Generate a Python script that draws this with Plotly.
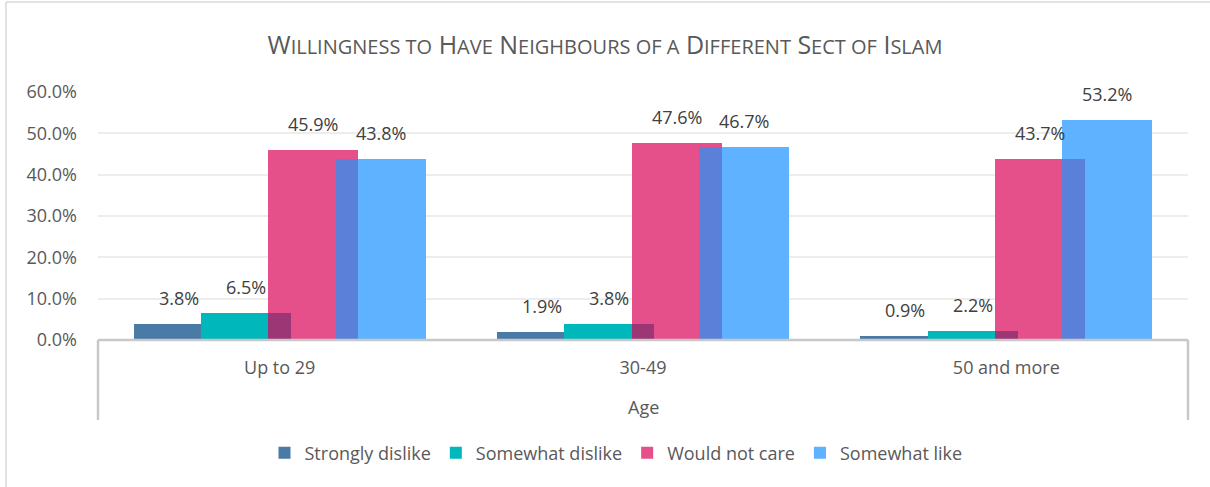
import plotly.graph_objects as go

categories = ["Up to 29", "30-49", "50 and more"]
series_names = ["Strongly dislike", "Somewhat dislike", "Would not care", "Somewhat like"]
strongly_dislike = [3.8, 1.9, 0.9]
somewhat_dislike = [6.5, 3.8, 2.2]
would_not_care = [45.9, 47.6, 43.7]
somewhat_like = [43.8, 46.7, 53.2]
y_ticks = [0, 10, 20, 30, 40, 50, 60]
y_tick_labels = [f"{v:.1f}%" for v in y_ticks]

series_values = [strongly_dislike, somewhat_dislike, would_not_care, somewhat_like]
colors = ["#4A7BA6", "#00B7BC", "#E6508A", "#5EB2FF"]
overlap_colors = {1: "#9C3675", 2: "#5A80DA"}  # overlap of series k with k+1

FONT = "Open Sans"
TXT = "#595959"
FS = 18

pitch = 0.1853
width = 0.2477
centers = [(k - 1.5) * pitch for k in range(4)]
group_x = list(range(len(categories)))

fig = go.Figure()
for k, (name, vals) in enumerate(zip(series_names, series_values)):
    fig.add_trace(go.Bar(
        x=[g + centers[k] for g in group_x], y=vals, width=width,
        name=name, marker=dict(color=colors[k], line=dict(width=0)),
        hoverinfo="skip",
    ))
    if k - 1 in overlap_colors:
        j = k - 1
        ov_w = width - pitch
        ov_x = [g + (centers[j] + centers[k]) / 2 for g in group_x]
        ov_y = [min(a, b) for a, b in zip(series_values[j], vals)]
        fig.add_trace(go.Bar(
            x=ov_x, y=ov_y, width=ov_w, showlegend=False,
            marker=dict(color=overlap_colors[j], line=dict(width=0)),
            hoverinfo="skip",
        ))

annotations = []
for k, vals in enumerate(series_values):
    for g, v in zip(group_x, vals):
        annotations.append(dict(
            x=g + centers[k], y=v, xref="x", yref="y", text=f"{v:.1f}%",
            showarrow=False, yanchor="bottom", yshift=12,
            font=dict(family=FONT, size=FS, color="#404040"),
        ))

annotations.append(dict(
    x=0.5, y=-67 / 248, xref="paper", yref="paper", text="Age",
    showarrow=False, yanchor="middle", font=dict(family=FONT, size=FS, color=TXT),
))

SC = "font-size:20px"
title_text = (f"W<span style='{SC}'>ILLINGNESS TO</span> "
              f"H<span style='{SC}'>AVE</span> "
              f"N<span style='{SC}'>EIGHBOURS OF A</span> "
              f"D<span style='{SC}'>IFFERENT</span> "
              f"S<span style='{SC}'>ECT OF</span> "
              f"I<span style='{SC}'>SLAM</span>")

line_col = "#C8C8C8"
border_col = "#D9D9D9"
shapes = [
    dict(type="line", xref="paper", yref="paper", x0=0, x1=1, y0=0, y1=0,
         line=dict(color=line_col, width=2.5)),
    dict(type="line", xref="paper", yref="paper", x0=0, x1=0, y0=0, y1=-80 / 248,
         line=dict(color=line_col, width=2.5)),
    dict(type="line", xref="paper", yref="paper", x0=1, x1=1, y0=0, y1=-80 / 248,
         line=dict(color=line_col, width=2.5)),
    dict(type="line", xref="paper", yref="paper", x0=-92 / 1090, x1=-92 / 1090,
         y0=-150 / 248, y1=338 / 248, line=dict(color=border_col, width=1.5)),
    dict(type="line", xref="paper", yref="paper", x0=-92 / 1090, x1=1115 / 1090,
         y0=338 / 248, y1=338 / 248, line=dict(color=border_col, width=1.5)),
]

fig.update_layout(
    width=1210, height=487,
    margin=dict(l=98, r=22, t=92, b=147),
    paper_bgcolor="white", plot_bgcolor="white",
    barmode="overlay", bargap=0,
    title=dict(text=title_text, x=0.5, xanchor="center", y=1 - 45 / 487,
               yanchor="middle", xref="container",
               font=dict(family=FONT, size=25, color=TXT)),
    font=dict(family=FONT, color=TXT),
    xaxis=dict(range=[-0.5, 2.5], tickvals=group_x, ticktext=categories,
               showgrid=False, zeroline=False, showline=False, ticks="",
               ticklabelstandoff=15, tickfont=dict(family=FONT, size=FS, color=TXT)),
    yaxis=dict(range=[0, 60], tickvals=y_ticks, ticktext=y_tick_labels,
               showgrid=True, gridcolor="#EDEDED", gridwidth=1.5, zeroline=False,
               showline=False, ticks="", ticklabelstandoff=20,
               tickfont=dict(family=FONT, size=FS, color=TXT)),
    legend=dict(orientation="h", x=(616 - 98) / 1090, xanchor="center", y=-113 / 248,
                yanchor="middle", font=dict(family=FONT, size=FS, color=TXT),
                itemwidth=30, traceorder="normal"),
    annotations=annotations,
    shapes=shapes,
)

fig.write_html("out.html")
